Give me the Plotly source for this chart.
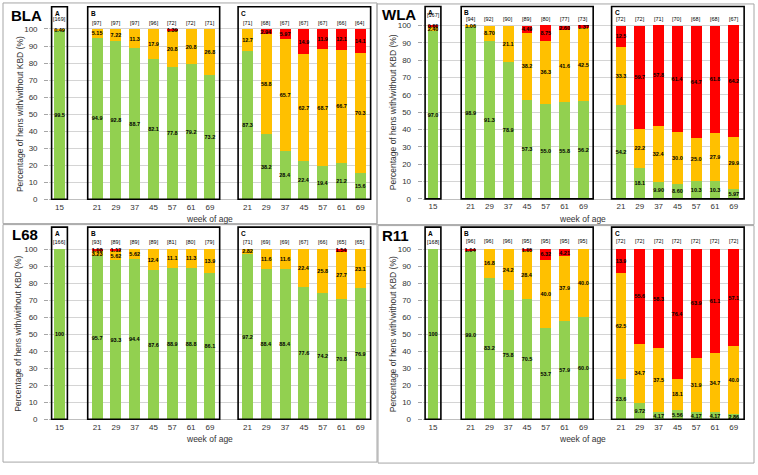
import plotly.graph_objects as go

W, H = 758, 475
SW = 18.8  # pixel width of one category slot

weeks = [15, 21, 29, 37, 45, 57, 61, 69, 21, 29, 37, 45, 57, 61, 69]
slots = [0, 2, 3, 4, 5, 6, 7, 8, 10, 11, 12, 13, 14, 15, 16]
group_names = ["A", "B", "C"]
group_spans = [(0, 0), (2, 8), (10, 16)]

bla_green = [99.5, 94.9, 92.8, 88.7, 82.1, 77.8, 79.2, 73.2, 87.3, 38.2, 28.4, 22.4, 19.4, 21.2, 15.6]
bla_orange = [0.49, 5.15, 7.22, 11.3, 17.9, 20.8, 20.8, 26.8, 12.7, 58.8, 65.7, 62.7, 68.7, 66.7, 70.3]
bla_red = [0, 0, 0, 0, 0, 1.39, 0, 0, 0, 2.94, 5.97, 14.9, 11.9, 12.1, 14.1]
bla_n = [169, 97, 97, 97, 96, 72, 72, 71, 71, 68, 67, 67, 67, 66, 64]

wla_green = [97.0, 98.9, 91.3, 78.9, 57.3, 55.0, 55.8, 56.2, 54.2, 18.1, 9.9, 8.6, 10.3, 10.3, 5.97]
wla_orange = [2.40, 1.06, 8.70, 21.1, 38.2, 36.3, 41.6, 42.5, 33.3, 22.2, 32.4, 30.0, 25.0, 27.9, 29.9]
wla_red = [0.60, 0, 0, 0, 4.49, 8.75, 2.60, 1.37, 12.5, 59.7, 57.8, 61.4, 64.7, 61.8, 64.2]
wla_n = [167, 94, 92, 90, 89, 80, 77, 73, 72, 72, 71, 70, 68, 68, 67]

l68_green = [100, 95.7, 93.3, 94.4, 87.6, 88.9, 88.8, 86.1, 97.2, 88.4, 88.4, 77.6, 74.2, 70.8, 76.9]
l68_orange = [0, 3.23, 5.62, 5.62, 12.4, 11.1, 11.3, 13.9, 2.82, 11.6, 11.6, 22.4, 25.8, 27.7, 23.1]
l68_red = [0, 1.08, 1.12, 0, 0, 0, 0, 0, 0, 0, 0, 0, 0, 1.54, 0]
l68_n = [166, 93, 89, 89, 89, 81, 80, 79, 71, 69, 69, 67, 66, 65, 65]

r11_green = [100, 99.0, 83.2, 75.8, 70.5, 53.7, 57.9, 60.0, 23.6, 9.72, 4.17, 5.56, 4.17, 4.17, 2.86]
r11_orange = [0, 0, 16.8, 24.2, 28.4, 40.0, 37.9, 40.0, 62.5, 34.7, 37.5, 18.1, 31.9, 34.7, 40.0]
r11_red = [0, 1.04, 0, 0, 1.05, 6.32, 4.21, 0, 13.9, 55.6, 58.3, 76.4, 63.9, 61.1, 57.1]
r11_n = [168, 96, 96, 96, 95, 95, 95, 95, 72, 72, 72, 72, 72, 72, 72]

line_names = ["BLA", "WLA", "L68", "R11"]
series = [
    (bla_green, bla_orange, bla_red, bla_n),
    (wla_green, wla_orange, wla_red, wla_n),
    (l68_green, l68_orange, l68_red, l68_n),
    (r11_green, r11_orange, r11_red, r11_n),
]

GREEN, ORANGE, RED = "#92D050", "#FFC000", "#FF0000"
FONT = "Liberation Sans, Arial, sans-serif"

# layout geometry (pixels)
panels = [
    dict(slot0=59.5, y0=201.3, y100=29.3, top=6.8, nA=106.0, nB=103.8, title=(26, 16), ytx=20, xty=221.5),
    dict(slot0=433.0, y0=201.0, y100=25.8, top=6.5, nA=106.0, nB=103.6, title=(399, 15), ytx=393, xty=221.5),
    dict(slot0=59.5, y0=423.7, y100=251.7, top=229.5, nA=104.3, nB=104.3, title=(25, 237), ytx=18.5, xty=443.3),
    dict(slot0=433.0, y0=423.7, y100=251.7, top=229.5, nA=104.3, nB=104.6, title=(395, 238), ytx=393, xty=443.3),
]
XR = [-0.55, 16.5]


def fmt(v):
    if v == 0:
        return ""
    if v >= 99.95:
        return "100"
    if v >= 10:
        return f"{v:.1f}"
    return f"{v:.2f}"


fig = go.Figure()
layout = dict(
    width=W, height=H, margin=dict(l=0, r=0, t=0, b=0),
    paper_bgcolor="white", plot_bgcolor="rgba(0,0,0,0)",
    barmode="stack", showlegend=False,
    font=dict(family=FONT, color="#222"),
)
annotations = []
shapes = []

# quadrant borders
for (x0, y0, x1, y1) in [(3, 3, 377, 226), (377, 4, 754, 227), (3, 227, 377, 467), (378, 228, 754, 468)]:
    shapes.append(dict(type="rect", xref="paper", yref="paper",
                       x0=x0 / W, x1=x1 / W, y0=1 - y1 / H, y1=1 - y0 / H,
                       line=dict(color="#A6A6A6", width=1), layer="below"))

for i, (p, name, (g, o, r, n)) in enumerate(zip(panels, line_names, series)):
    sfx = "" if i == 0 else str(i + 1)
    xa, ya = "x" + sfx, "y" + sfx
    ppu = (p["y0"] - p["y100"]) / 100.0
    ytop = (p["y0"] - p["top"]) / ppu
    xd0 = (p["slot0"] + XR[0] * SW) / W
    xd1 = (p["slot0"] + XR[1] * SW) / W
    layout["xaxis" + sfx] = dict(
        domain=[xd0, xd1], range=XR, anchor=ya,
        tickmode="array", tickvals=slots, ticktext=[str(w) for w in weeks],
        tickfont=dict(size=8, color="#333"), ticks="", showgrid=False,
        showline=True, linecolor="#BFBFBF", linewidth=1, zeroline=False,
        fixedrange=True,
    )
    layout["yaxis" + sfx] = dict(
        domain=[1 - p["y0"] / H, 1 - p["top"] / H], range=[0, ytop], anchor=xa,
        tickmode="array", tickvals=list(range(0, 101, 10)),
        tickfont=dict(size=8, color="#333"), ticks="outside", ticklen=4,
        tickcolor="#A6A6A6", ticklabelstandoff=5,
        showgrid=True, gridcolor="#D4D4D4", gridwidth=1, zeroline=False,
        showline=False, fixedrange=True,
    )
    for vals, col in [(g, GREEN), (o, ORANGE), (r, RED)]:
        fig.add_trace(go.Bar(
            x=slots, y=vals, xaxis=xa, yaxis=ya, width=0.58,
            marker=dict(color=col, line=dict(width=0)),
            text=[fmt(v) for v in vals], textposition="inside",
            insidetextanchor="middle", textangle=0, constraintext="none",
            textfont=dict(size=5.5, color="black", family=FONT, weight="bold"),
            cliponaxis=False, hoverinfo="skip",
        ))
    # group boxes and letters
    span = XR[1] - XR[0]
    for gname, (s0, s1) in zip(group_names, group_spans):
        lpad, rpad = (0.42, 0.42) if gname == "A" else (0.5, 0.52 if gname == "B" else 0.55)
        bx0 = (s0 - lpad - XR[0]) / span
        bx1 = (s1 + rpad - XR[0]) / span
        shapes.append(dict(type="rect", xref=xa + " domain", yref=ya + " domain",
                           x0=bx0, x1=bx1, y0=0, y1=1,
                           line=dict(color="black", width=1.6)))
        annotations.append(dict(xref=xa + " domain", yref=ya + " domain", x=bx0, y=1,
                                xanchor="left", yanchor="top", xshift=1, yshift=-1,
                                text=gname, showarrow=False,
                                font=dict(size=6.5, color="black", family=FONT, weight="bold")))
    # sample sizes
    for k, (s, nv) in enumerate(zip(slots, n)):
        annotations.append(dict(xref=xa, yref=ya, x=s, y=p["nA"] if k == 0 else p["nB"],
                                xanchor="center", yanchor="middle",
                                text=f"[{nv}]", showarrow=False,
                                font=dict(size=5.5, color="black", family=FONT)))
    # line name
    annotations.append(dict(xref="paper", yref="paper", x=p["title"][0] / W, y=1 - p["title"][1] / H,
                            xanchor="center", yanchor="middle",
                            text=f"<b>{name}</b>", showarrow=False,
                            font=dict(size=15, color="black", family=FONT)))
    # axis titles
    annotations.append(dict(xref="paper", yref="paper", x=p["ytx"] / W,
                            y=1 - (p["y0"] + p["y100"]) / 2 / H, textangle=-90,
                            xanchor="center", yanchor="middle",
                            text="Percentage of hens with/without KBD (%)", showarrow=False,
                            font=dict(size=8.5, color="#333", family=FONT)))
    annotations.append(dict(xref="paper", yref="paper", x=(xd0 + xd1) / 2,
                            y=1 - p["xty"] / H, xanchor="center", yanchor="middle",
                            text="week of age", showarrow=False,
                            font=dict(size=8.5, color="#333", family=FONT)))

layout["annotations"] = annotations
layout["shapes"] = shapes
fig.update_layout(**layout)
fig.write_html("out.html", config={"displayModeBar": False},
               post_script="document.body.style.margin='0px';document.body.style.overflow='hidden';")
